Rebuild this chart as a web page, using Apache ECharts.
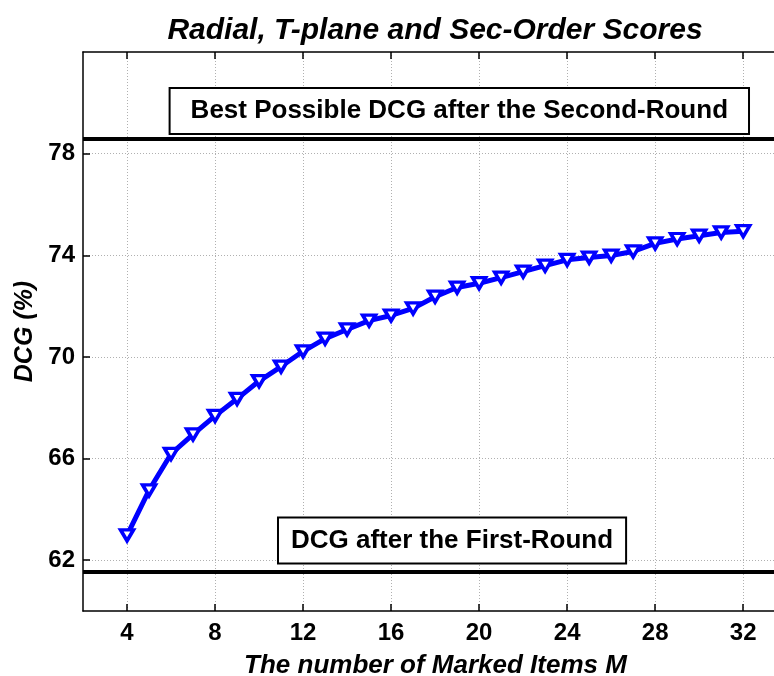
<!DOCTYPE html>
<html>
<head>
<meta charset="utf-8">
<script src="https://cdn.jsdelivr.net/npm/echarts@6/dist/echarts.min.js"></script>
<style>
  html, body { margin: 0; padding: 0; background: #fff; }
  #chart { width: 774px; height: 676px; }
</style>
</head>
<body>
<div id="chart"></div>
<script>
// Number of marked items M
const markedItems = [4, 5, 6, 7, 8, 9, 10, 11, 12, 13, 14, 15, 16, 17, 18, 19, 20,
  21, 22, 23, 24, 25, 26, 27, 28, 29, 30, 31, 32];
// DCG (%) with radial, T-plane and second-order scores
const dcgScores = [62.98, 64.75, 66.18, 66.95, 67.68, 68.35, 69.05, 69.62, 70.22,
  70.72, 71.08, 71.43, 71.63, 71.91, 72.37, 72.73, 72.90, 73.12, 73.36, 73.59,
  73.82, 73.91, 73.99, 74.15, 74.47, 74.64, 74.77, 74.90, 74.95];
// Reference levels
const bestSecondRound = 78.58;
const firstRound = 61.53;
// Tick positions
const xTicks = [4, 8, 12, 16, 20, 24, 28, 32];
const yTicks = [62, 66, 70, 74, 78];
// Annotation texts and anchor points (data coordinates)
const bestLabel = 'Best Possible DCG after the Second-Round';
const bestLabelAt = [19.1, 79.68];
const firstLabel = 'DCG after the First-Round';
const firstLabelAt = [18.77, 62.77];

const FONT = '"Liberation Sans", Arial, Helvetica, sans-serif';

const chart = echarts.init(document.getElementById('chart'), null, { renderer: 'canvas' });

function boxLabel(text, padX) {
  return {
    show: true,
    position: 'inside',
    formatter: text,
    color: '#000',
    fontFamily: FONT,
    fontWeight: 'bold',
    fontSize: 26,
    lineHeight: 28,
    backgroundColor: '#fff',
    borderColor: '#000',
    borderWidth: 2,
    padding: [8, padX, 8, padX]
  };
}

const option = {
  animation: false,
  backgroundColor: '#fff',
  title: {
    text: 'Radial, T-plane and Sec-Order Scores',
    left: 430,
    top: 11,
    textAlign: 'center',
    textStyle: {
      fontFamily: FONT,
      fontWeight: 'bold',
      fontStyle: 'italic',
      fontSize: 30,
      color: '#000'
    }
  },
  grid: { left: 83, right: 0, top: 52, bottom: 65, containLabel: false, outerBoundsMode: 'none' },
  xAxis: [{
    type: 'value',
    min: 2,
    max: 33.4,
    name: 'The number of Marked Items M',
    nameLocation: 'middle',
    nameGap: 42,
    nameTextStyle: {
      fontFamily: FONT, fontWeight: 'bold', fontStyle: 'italic', fontSize: 26, color: '#000',
      padding: [0, 0, 0, 14]
    },
    axisLine: { show: true, onZero: false, lineStyle: { color: '#000', width: 1.5 } },
    axisTick: { show: true, inside: true, length: 7, customValues: xTicks, lineStyle: { color: '#000', width: 1.5 } },
    axisLabel: {
      customValues: xTicks, margin: 10, color: '#000',
      fontFamily: FONT, fontWeight: 'bold', fontSize: 24
    },
    splitLine: { show: true, lineStyle: { color: '#b0b0b0', width: 1, type: [1, 2] } }
  }, {
    type: 'value',
    position: 'top',
    min: 2,
    max: 33.4,
    axisLine: { show: true, onZero: false, lineStyle: { color: '#000', width: 1.5 } },
    axisTick: { show: true, inside: true, length: 7, customValues: xTicks, lineStyle: { color: '#000', width: 1.5 } },
    axisLabel: { show: false },
    splitLine: { show: false }
  }],
  yAxis: {
    type: 'value',
    min: 60,
    max: 82,
    name: 'DCG (%)',
    nameLocation: 'middle',
    nameGap: 43,
    nameTextStyle: {
      fontFamily: FONT, fontWeight: 'bold', fontStyle: 'italic', fontSize: 25, color: '#000'
    },
    axisLine: { show: true, onZero: false, lineStyle: { color: '#000', width: 1.5 } },
    axisTick: { show: true, inside: true, length: 7, customValues: yTicks, lineStyle: { color: '#000', width: 1.5 } },
    axisLabel: {
      customValues: yTicks, margin: 8, color: '#000',
      fontFamily: FONT, fontWeight: 'bold', fontSize: 24
    },
    splitLine: { show: true, lineStyle: { color: '#b0b0b0', width: 1, type: [1, 2] } }
  },
  series: [{
    type: 'line',
    xAxisIndex: 0,
    data: markedItems.map((m, i) => [m, dcgScores[i]]),
    lineStyle: { color: '#0000ff', width: 5 },
    symbol: 'triangle',
    symbolRotate: 180,
    symbolSize: [13, 11],
    itemStyle: { color: '#ffffff', borderColor: '#0000ff', borderWidth: 3.5 },
    z: 5,
    markLine: {
      silent: true,
      symbol: ['none', 'none'],
      label: { show: false },
      lineStyle: { color: '#000', width: 4, type: 'solid' },
      data: [{ yAxis: bestSecondRound }, { yAxis: firstRound }]
    },
    markPoint: {
      silent: true,
      symbol: 'rect',
      symbolSize: 0,
      data: [
        { coord: bestLabelAt, label: boxLabel(bestLabel, 20) },
        { coord: firstLabelAt, label: boxLabel(firstLabel, 12) }
      ]
    }
  }]
};

chart.setOption(option);
</script>
</body>
</html>
